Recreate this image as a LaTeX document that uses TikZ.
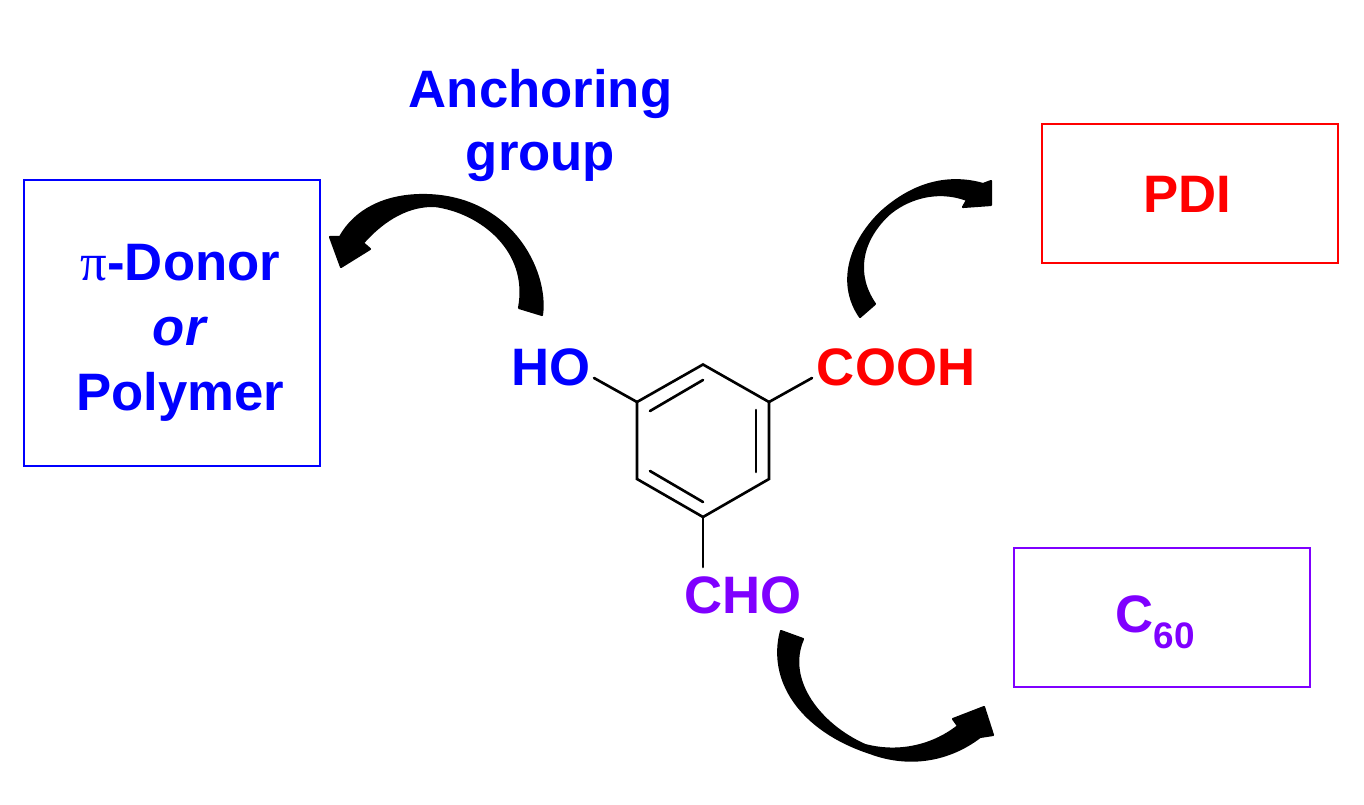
\documentclass[tikz,border=0pt]{standalone}
\usepackage{fontspec}
\setmainfont{Liberation Sans}
\newfontfamily\pifont{Liberation Serif}
\usepackage{xcolor}
\usepackage{tikz}
\usetikzlibrary{positioning}
\definecolor{dblue}{HTML}{0000FF}
\definecolor{dred}{HTML}{FF0000}
\definecolor{dviolet}{HTML}{7F00FF}
\tikzset{
  box/.style={draw,line width=1.6pt,minimum width=5.92cm,inner sep=0pt},
  lbl/.style={font=\fontsize{30}{37}\selectfont\bfseries,align=center,inner sep=0pt},
  bond/.style={line width=1.5pt,line cap=round,line join=miter},
  swoosh/.style={fill=black,draw=black,line width=1.2pt,line join=round},
}
\begin{document}
\begin{tikzpicture}[x=0.02cm,y=-0.02cm]
\useasboundingbox (0,0) rectangle (1364,804);
% boxes
\node[box,draw=dblue,minimum height=5.72cm] (donorbox) at (172,323) {};
\node[box,draw=dred,minimum height=2.78cm] (pdibox) at (1190,193.5) {};
\node[box,draw=dviolet,minimum height=2.78cm] (cbox) at (1162,617.5) {};
% box texts
\node[lbl,dblue] (donor) at (180.5,332.5) {{\pifont\textmd{π}}-Donor\\\textit{or}\\Polymer};
\node[lbl,dred] (pdi) at (1187,194) {PDI};
\node[lbl,dviolet] (cs) at (1155,622) {C\raisebox{-0.3em}{\fontsize{21}{21}\selectfont 60}};
\node[lbl,dblue] (anchor) at (540.5,125.5) {Anchoring\\[-1.3pt]group};
% substituents
\node[lbl,dblue] (ho) at (551,367) {HO};
\node[lbl,dred] (cooh) at (896,367) {COOH};
\node[lbl,dviolet] (cho) at (743,595) {CHO};
% ring
\coordinate (r1) at (703,364.5);
\coordinate (r2) at (769,402);
\coordinate (r3) at (769,479);
\coordinate (r4) at (703,517);
\coordinate (r5) at (637,479);
\coordinate (r6) at (637,402);
\draw[bond] (r1)--(r2)--(r3)--(r4)--(r5)--(r6)--cycle;
% inner double bonds
\coordinate (d1a) at (650,411); \coordinate (d1b) at (703,380);
\coordinate (d2a) at (756,410); \coordinate (d2b) at (756,472);
\coordinate (d3a) at (650,471); \coordinate (d3b) at (703,502);
\draw[bond] (d1a)--(d1b);
\draw[bond] (d2a)--(d2b);
\draw[bond] (d3a)--(d3b);
% substituent bonds
\coordinate (hoend) at (594,378);
\coordinate (coohend) at (812,378);
\coordinate (choend) at (703,567);
\draw[bond] (r6)--(hoend);
\draw[bond] (r2)--(coohend);
\draw[bond] (r4)--(choend);
% arrow HO to donor
\draw[swoosh] (542,315) .. controls (548,270) and (510,195) .. (423,195)
  .. controls (385,195) and (355,210) .. (340,237)
  -- (330,237) -- (341,267) -- (370,249) -- (363,243)
  .. controls (385,218) and (410,205) .. (435,206)
  .. controls (480,212) and (530,250) .. (519,308) -- cycle;
% arrow COOH to PDI
\draw[swoosh] (860,317) .. controls (838,285) and (848,245) .. (880,213)
  .. controls (905,190) and (940,172) .. (983,184)
  -- (991,181) -- (991,205) -- (963,207) -- (967,200)
  .. controls (935,188) and (905,200) .. (888,215)
  .. controls (860,242) and (855,275) .. (875,304) -- cycle;
% arrow CHO to C60
\draw[swoosh] (781,631) .. controls (768,680) and (800,730) .. (870,753)
  .. controls (910,768) and (950,760) .. (980,737)
  -- (993,735) -- (984,707) -- (953,719) -- (958,726)
  .. controls (930,748) and (895,753) .. (865,745)
  .. controls (820,725) and (785,680) .. (803,639) -- cycle;
\end{tikzpicture}
\end{document}
